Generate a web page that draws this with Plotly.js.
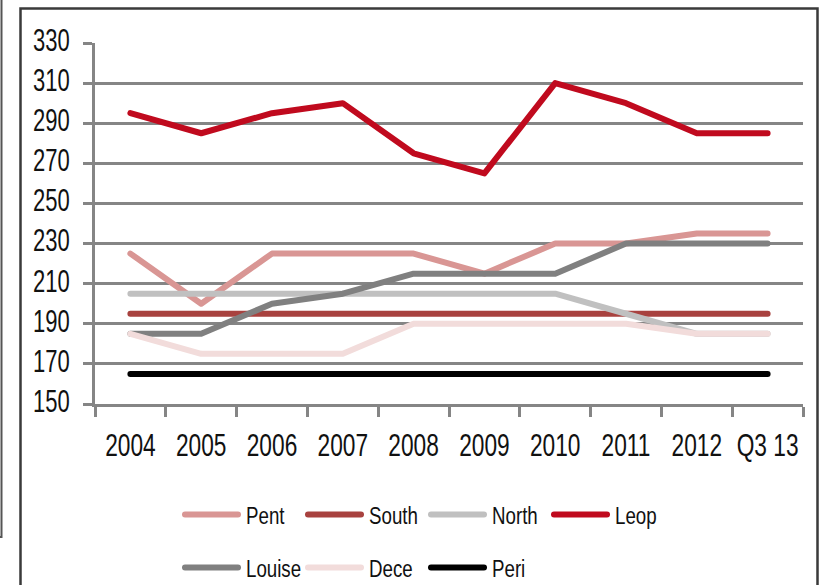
<!DOCTYPE html>
<html>
<head>
<meta charset="utf-8">
<script src="https://cdn.plot.ly/plotly-3.0.1.min.js"></script>
<style>
  html, body { margin: 0; padding: 0; background: #ffffff; }
  #chart { width: 821px; height: 585px; }
  .scatterlayer path.js-line, .legendlines path { stroke-linecap: round; stroke-linejoin: round; }
  /* narrow lettering for tick labels */
  g.xtick { transform-box: fill-box; transform-origin: center center; transform: scaleX(0.71); }
  g.ytick { transform-box: fill-box; transform-origin: right center; transform: translateY(-3px) scaleX(0.71); }
</style>
</head>
<body>
<div id="chart"></div>
<script>
// Categories along the x axis
const periods = ['2004', '2005', '2006', '2007', '2008', '2009', '2010', '2011', '2012', 'Q3 13'];

// Series values, one array per line
const pent   = [225, 200, 225, 225, 225, 215, 230, 230, 235, 235];
const south  = [195, 195, 195, 195, 195, 195, 195, 195, 195, 195];
const north  = [205, 205, 205, 205, 205, 205, 205, 195, 185, 185];
const leop   = [295, 285, 295, 300, 275, 265, 310, 300, 285, 285];
const louise = [185, 185, 200, 205, 215, 215, 215, 230, 230, 230];
const dece   = [185, 175, 175, 175, 190, 190, 190, 190, 185, 185];
const peri   = [165, 165, 165, 165, 165, 165, 165, 165, 165, 165];

// Y axis ticks
const yTicks = [150, 170, 190, 210, 230, 250, 270, 290, 310, 330];

const FONT = 'Liberation Sans, Arial, sans-serif';
const GRID = '#858585';

// Plot area in pixels (used to place frame shapes in paper units)
const W = 821, H = 585;
const M = { l: 95, r: 18, t: 43, b: 181, autoexpand: false };
const PW = W - M.l - M.r, PH = H - M.t - M.b;
const px = x => (x - M.l) / PW;
const py = y => (H - M.b - y) / PH;

function line(name, y, color, legend) {
  return {
    type: 'scatter', mode: 'lines', name: name,
    x: periods, y: y,
    line: { color: color, width: 6 },
    legend: legend,
    hoverinfo: 'skip'
  };
}

const traces = [
  line('Pent',   pent,   '#D99694', 'legend'),
  line('South',  south,  '#A8423F', 'legend'),
  line('North',  north,  '#C0C0C0', 'legend'),
  line('Leop',   leop,   '#C00A1E', 'legend'),
  line('Louise', louise, '#808080', 'legend2'),
  line('Dece',   dece,   '#F2DCDB', 'legend2'),
  line('Peri',   peri,   '#000000', 'legend2')
];

const legendBase = {
  orientation: 'h',
  xanchor: 'left', yanchor: 'middle',
  font: { family: FONT, size: 24, color: '#111111' },
  entrywidth: 52, entrywidthmode: 'pixels',
  itemwidth: 56,
  bgcolor: 'rgba(0,0,0,0)',
  traceorder: 'normal'
};

const layout = {
  width: W, height: H,
  margin: M,
  paper_bgcolor: '#ffffff',
  plot_bgcolor: '#ffffff',
  showlegend: true,
  font: { family: FONT, color: '#111111' },
  xaxis: {
    type: 'category',
    range: [-0.5, periods.length - 0.5],
    tickson: 'boundaries',
    tickangle: 0,
    ticks: 'outside', ticklen: 10, tickwidth: 3, tickcolor: GRID,
    showline: true, linecolor: GRID, linewidth: 3,
    showgrid: false,
    tickfont: { family: FONT, size: 32, color: '#111111' },
    ticklabelstandoff: 11,
    fixedrange: true
  },
  yaxis: {
    range: [150, 330],
    tickvals: yTicks,
    ticktext: yTicks.map(String),
    ticks: 'outside', ticklen: 9, tickwidth: 3, tickcolor: GRID,
    showline: true, linecolor: GRID, linewidth: 3,
    showgrid: true, gridcolor: GRID, gridwidth: 3,
    zeroline: false,
    tickfont: { family: FONT, size: 31, color: '#111111' },
    ticklabelstandoff: 7,
    fixedrange: true
  },
  legend: Object.assign({}, legendBase, { x: px(180), y: py(515) }),
  legend2: Object.assign({}, legendBase, { x: px(180), y: py(568) }),
  shapes: [
    // outer frame of the chart box
    { type: 'path', xref: 'paper', yref: 'paper',
      path: `M ${px(20.5)} ${py(600)} L ${px(20.5)} ${py(8.5)} L ${px(817.5)} ${py(8.5)} L ${px(817.5)} ${py(600)}`,
      line: { color: '#3a3a3a', width: 2.5 }, layer: 'below' },
    // edge of the neighbouring panel on the left
    { type: 'path', xref: 'paper', yref: 'paper',
      path: `M ${px(1.5)} ${py(-2)} L ${px(1.5)} ${py(537)} L ${px(-2)} ${py(537)}`,
      line: { color: '#555555', width: 2 }, layer: 'below' }
  ]
};

// longer legend swatches and narrow legend lettering (both legend rows)
function styleLegends(gd) {
  const k = 0.78;
  gd.querySelectorAll('.legendlines path').forEach(p => p.setAttribute('d', 'M5,0h53'));
  gd.querySelectorAll('text.legendtext, text.legend2text').forEach(t => {
    const x0 = parseFloat(t.getAttribute('x')) || 0;
    t.setAttribute('transform', `matrix(${k},0,0,1,${x0 * (1 - k)},0)`);
  });
}

Plotly.newPlot('chart', traces, layout, { staticPlot: true, displayModeBar: false }).then(gd => {
  styleLegends(gd);
  setTimeout(() => styleLegends(gd), 100);
});
</script>
</body>
</html>
